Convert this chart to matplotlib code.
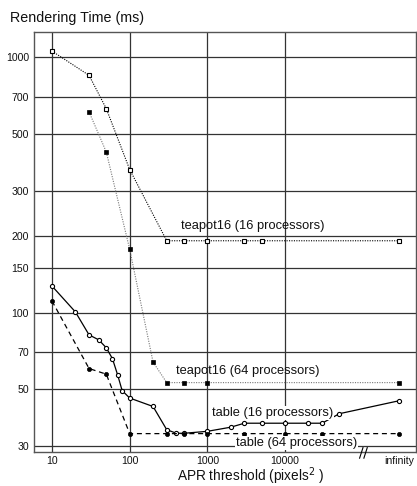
import numpy as np
import matplotlib
matplotlib.use('Agg')
import matplotlib.pyplot as plt

plt.rcParams['font.family'] = ['Liberation Sans', 'DejaVu Sans']

# "infinity" 위치 (로그축 위 임의 위치)
INF = 2.96e5

# teapot16 (16 processors)
tp16_x = [10, 30, 50, 100, 300, 500, 1000, 3000, 5000, INF]
tp16_y = [1055, 848, 628, 363, 191, 191, 191, 191, 191, 191]

# teapot16 (64 processors)
tp64_x = [30, 50, 100, 200, 300, 500, 1000, INF]
tp64_y = [610, 425, 177, 64, 53.2, 53.2, 53.2, 53.2]

# table (16 processors)
tb16_x = [10, 20, 30, 40, 50, 60, 70, 80, 100, 200, 300, 400, 500,
          1000, 2000, 3000, 5000, 10000, 20000, 30000, 50000, INF]
tb16_y = [127, 100.6, 81.8, 78.2, 72.8, 66, 57, 49.5, 46.3, 42.9, 34.8, 33.7, 33.7,
          34.3, 35.6, 36.9, 36.9, 36.9, 36.9, 36.9, 40.2, 45.2]

# table (64 processors)
tb64_x = [10, 30, 50, 100, 300, 500, 1000, 3000, 10000, 30000, INF]
tb64_y = [111, 60.4, 57.4, 33.6, 33.6, 33.6, 33.6, 33.6, 33.6, 33.6, 33.6]

xticks = [10, 100, 1000, 10000, INF]
xlabels = ['10', '100', '1000', '10000', 'infinity']
yticks = [30, 50, 70, 100, 150, 200, 300, 500, 700, 1000]

fig = plt.figure(figsize=(4.17, 4.86), dpi=100)
ax = fig.add_axes([0.0827, 0.0694, 0.915, 0.864])
ax.set_xscale('log')
ax.set_yscale('log')
ax.set_xlim(5.95, 4.86e5)
ax.set_ylim(28.4, 1249)

# 격자선
for v in [10, 100, 1000, 10000]:
    ax.axvline(v, color='#333333', lw=0.9, zorder=1)
for v in yticks:
    ax.axhline(v, color='#333333', lw=0.9, zorder=1)

ax.plot(tp16_x, tp16_y, ls=(0, (1, 1.2)), color='black', lw=0.8,
        marker='s', ms=2.9, mfc='white', mec='black', mew=0.8, zorder=3)
ax.plot(tp64_x, tp64_y, ls=(0, (1, 1.2)), color='#777777', lw=0.8,
        marker='s', ms=3.0, mfc='black', mec='black', mew=0.5, zorder=3)
ax.plot(tb16_x, tb16_y, ls='-', color='black', lw=0.9,
        marker='o', ms=3.0, mfc='white', mec='black', mew=0.8, zorder=3)
ax.plot(tb64_x, tb64_y, ls=(0, (4, 3)), color='black', lw=0.9,
        marker='o', ms=3.0, mfc='black', mec='black', mew=0.5, zorder=3)

# 선 라벨
box = dict(facecolor='white', edgecolor='none', pad=0.8)
lbl = dict(fontsize=9.3, ha='left', va='center', color='#111111', zorder=4)
ax.text(458, 218, 'teapot16 (16 processors)', **lbl)
ax.text(395, 59.3, 'teapot16 (64 processors)', **lbl)
ax.text(1138, 40.5, 'table (16 processors)', bbox=box, **lbl)
ax.text(2340, 30.8, 'table (64 processors)', bbox=box, **lbl)

# 축 끊김 표시
tr = ax.get_xaxis_transform()
for bx in [0.96e5, 1.09e5]:
    ax.plot([bx * 0.95, bx * 1.05], [-0.014, 0.011], color='black', lw=0.8,
            transform=tr, clip_on=False, zorder=5)

ax.set_xticks(xticks)
ax.set_xticklabels(xlabels)
ax.set_yticks(yticks)
ax.set_yticklabels([str(v) for v in yticks])
ax.minorticks_off()
ax.tick_params(length=0, labelsize=7.6, colors='#111111')
ax.tick_params(axis='x', pad=2.5)
ax.tick_params(axis='y', pad=4)
for s in ax.spines.values():
    s.set_color('#555555')
    s.set_linewidth(1.0)

fig.text(10 / 417, 1 - 18 / 486, 'Rendering Time (ms)', fontsize=10.3,
         ha='left', va='center', color='#111111')
fig.text(251 / 417, 1 - 476.5 / 486, 'APR threshold (pixels$^2$ )', fontsize=9.8,
         ha='center', va='center', color='#111111')

fig.savefig('out.png', dpi=100)
